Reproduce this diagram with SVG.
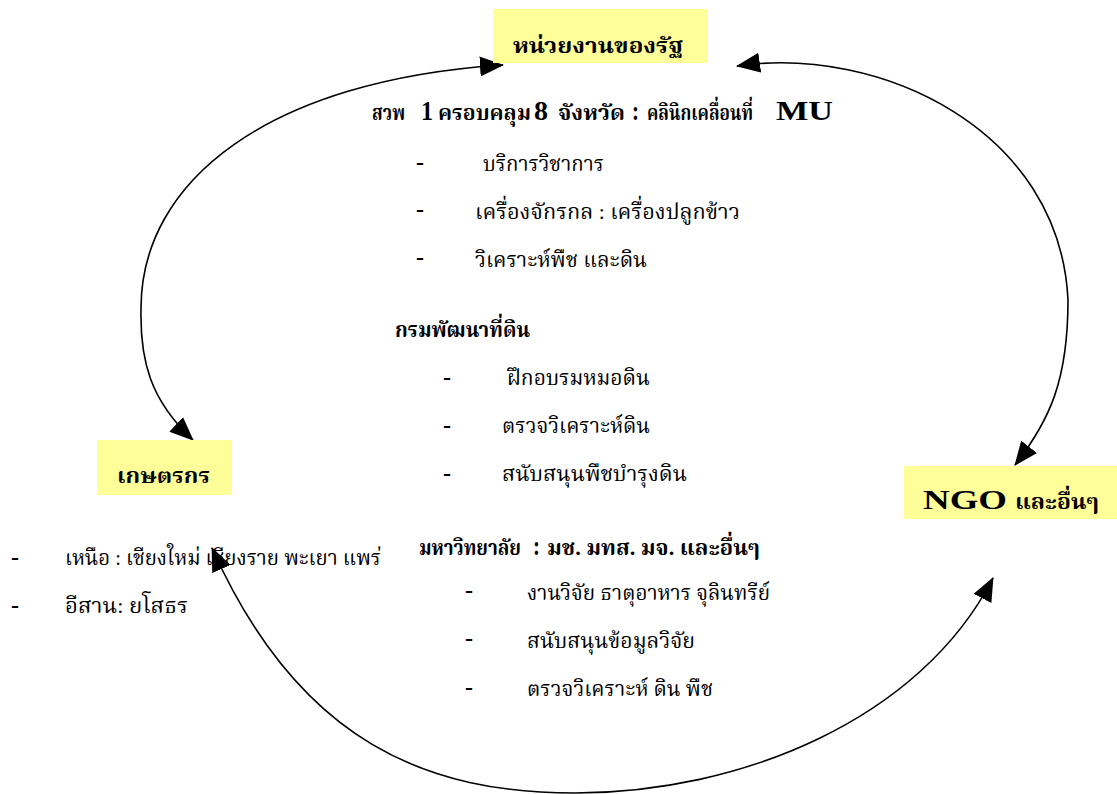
<svg xmlns="http://www.w3.org/2000/svg" width="1117" height="794" viewBox="0 0 1117 794">
<defs>
<style>
text{font-family:"Liberation Serif","Noto Serif Thai","Noto Sans Thai","DejaVu Serif",serif;fill:#000}
.th{font-size:22px}
.thb{font-size:22px;font-weight:bold}
.big{font-size:28px;font-weight:bold}
.dash{font-size:24px;font-weight:bold}
.box{fill:#ffff99}
.conn{fill:none;stroke:#000;stroke-width:1.6}
</style>
<marker id="arr" markerUnits="userSpaceOnUse" markerWidth="24" markerHeight="20" viewBox="0 0 24 20" refX="23" refY="10" orient="auto-start-reverse">
<path d="M0,0 L24,10 L0,20 z" fill="#000"/>
</marker>
</defs>
<rect width="1117" height="794" fill="#fff"/>

<g id="connectors">
<path class="conn" d="M193,440 C150,400 140,360 141,310 C140,180 270,80 503,65" marker-start="url(#arr)" marker-end="url(#arr)"/>
<path class="conn" d="M737,66 C880,45 1060,130 1068,300 C1068,380 1050,420 1015,465" marker-start="url(#arr)" marker-end="url(#arr)"/>
<path class="conn" d="M212,548 C300,745 430,793 575,793 C740,793 920,720 993,578" marker-start="url(#arr)" marker-end="url(#arr)"/>
</g>

<g id="node-state">
<rect class="box" x="493" y="9" width="214" height="54"/>
<text class="thb" x="513" y="53" textLength="170" lengthAdjust="spacingAndGlyphs">หน่วยงานของรัฐ</text>
</g>

<g id="node-farmer">
<rect class="box" x="97" y="440" width="135" height="55"/>
<text class="thb" x="117" y="483" textLength="93" lengthAdjust="spacingAndGlyphs">เกษตรกร</text>
</g>

<g id="node-ngo">
<rect class="box" x="904" y="466" width="213" height="53"/>
<text class="big" x="923" y="509" font-size="36" textLength="84" lengthAdjust="spacingAndGlyphs">NGO</text>
<text class="thb" x="1015" y="509" textLength="84" lengthAdjust="spacingAndGlyphs">และอื่นๆ</text>
</g>

<g id="state-details">
<g id="line-srd">
<text class="thb" x="372" y="120" textLength="33" lengthAdjust="spacingAndGlyphs">สวพ</text>
<text class="big" x="421" y="120" textLength="12" lengthAdjust="spacingAndGlyphs">1</text>
<text class="thb" x="438" y="120" textLength="93" lengthAdjust="spacingAndGlyphs">ครอบคลุม</text>
<text class="big" x="534" y="120" textLength="14" lengthAdjust="spacingAndGlyphs">8</text>
<text class="thb" x="558" y="120" textLength="67" lengthAdjust="spacingAndGlyphs">จังหวัด</text>
<text class="big" x="632" y="120" textLength="7" lengthAdjust="spacingAndGlyphs">:</text>
<text class="thb" x="647" y="120" font-size="20" textLength="106" lengthAdjust="spacingAndGlyphs">คลินิกเคลื่อนที่</text>
<text class="big" x="776" y="120" textLength="57" lengthAdjust="spacingAndGlyphs">MU</text>
</g>

<text class="dash" x="416" y="170">-</text>
<text class="th" x="483" y="171" textLength="121" lengthAdjust="spacingAndGlyphs">บริการวิชาการ</text>
<text class="dash" x="416" y="217">-</text>
<text class="th" x="475" y="219" textLength="265" lengthAdjust="spacingAndGlyphs">เครื่องจักรกล  : เครื่องปลูกข้าว</text>
<text class="dash" x="416" y="265">-</text>
<text class="th" x="475" y="267" textLength="172" lengthAdjust="spacingAndGlyphs">วิเคราะห์พืช และดิน</text>

<text class="thb" x="395" y="337" textLength="135" lengthAdjust="spacingAndGlyphs">กรมพัฒนาที่ดิน</text>
<text class="dash" x="443" y="385">-</text>
<text class="th" x="507" y="385" textLength="143" lengthAdjust="spacingAndGlyphs">ฝึกอบรมหมอดิน</text>
<text class="dash" x="443" y="433">-</text>
<text class="th" x="502" y="433" textLength="148" lengthAdjust="spacingAndGlyphs">ตรวจวิเคราะห์ดิน</text>
<text class="dash" x="443" y="481">-</text>
<text class="th" x="502" y="481" textLength="185" lengthAdjust="spacingAndGlyphs">สนับสนุนพืชบำรุงดิน</text>

<g id="line-uni">
<text class="thb" x="419" y="555" font-size="20" textLength="102" lengthAdjust="spacingAndGlyphs">มหาวิทยาลัย</text>
<text class="big" x="533" y="555" textLength="7" lengthAdjust="spacingAndGlyphs">:</text>
<text class="thb" x="547" y="555" textLength="213" lengthAdjust="spacingAndGlyphs">มช.  มทส. มจ. และอื่นๆ</text>
</g>
<text class="dash" x="465" y="598">-</text>
<text class="th" x="527" y="600" textLength="243" lengthAdjust="spacingAndGlyphs">งานวิจัย ธาตุอาหาร จุลินทรีย์</text>
<text class="dash" x="465" y="646">-</text>
<text class="th" x="527" y="648" textLength="168" lengthAdjust="spacingAndGlyphs">สนับสนุนข้อมูลวิจัย</text>
<text class="dash" x="465" y="695">-</text>
<text class="th" x="527" y="696" textLength="186" lengthAdjust="spacingAndGlyphs">ตรวจวิเคราะห์ ดิน พืช</text>
</g>

<g id="farmer-details">
<text class="dash" x="11" y="565">-</text>
<text class="th" x="65" y="565" textLength="316" lengthAdjust="spacingAndGlyphs">เหนือ : เชียงใหม่ เชียงราย พะเยา แพร่</text>
<text class="dash" x="11" y="613">-</text>
<text class="th" x="65" y="613" textLength="123" lengthAdjust="spacingAndGlyphs">อีสาน: ยโสธร</text>
</g>
</svg>
